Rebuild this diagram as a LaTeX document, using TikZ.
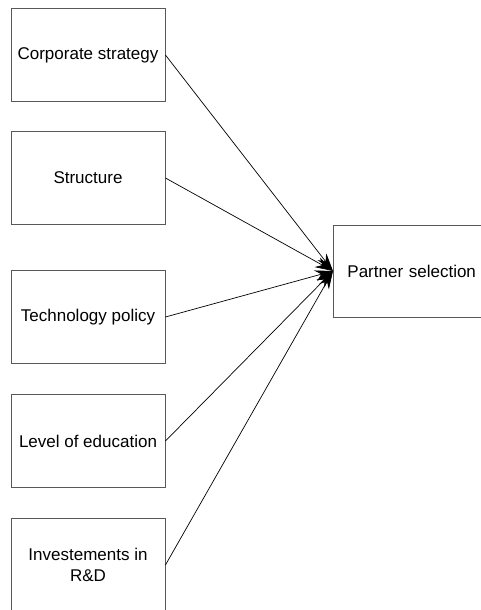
\documentclass[tikz,border=0pt]{standalone}
\usepackage{fontspec}
\setmainfont{Liberation Sans}
\usetikzlibrary{arrows.meta}
\begin{document}
\begin{tikzpicture}[x=1pt,y=-1pt,
  factor/.style={draw=black!65, line width=0.9pt, minimum width=154pt, minimum height=93pt,
    inner sep=0pt, align=center, font=\fontsize{17}{21}\selectfont},
  target/.style={draw=black!65, line width=0.9pt, text width=166pt, minimum height=92pt,
    inner xsep=14pt, inner ysep=0pt, align=left, anchor=west, font=\fontsize{17}{21}\selectfont},
  link/.style={draw=black, line width=0.7pt, -{Stealth[length=18pt,width=11pt]}}]
\useasboundingbox (0,0) rectangle (481,610);
\fill[white] (0,0) rectangle (481,610);
\node[factor] (cs) at (88,55) {Corporate strategy};
\node[factor] (st) at (88,178) {Structure};
\node[factor] (tp) at (88,317) {Technology policy};
\node[factor] (le) at (88,441) {Level of education};
\node[factor] (rd) at (88,565) {Investements in\\R\&D};
\node[target] (ps) at (333,271) {Partner selection};
\draw[link] (cs.east) -- (ps.west);
\draw[link] (st.east) -- (ps.west);
\draw[link] (tp.east) -- (ps.west);
\draw[link] (le.east) -- (ps.west);
\draw[link] (rd.east) -- (ps.west);
\end{tikzpicture}
\end{document}
